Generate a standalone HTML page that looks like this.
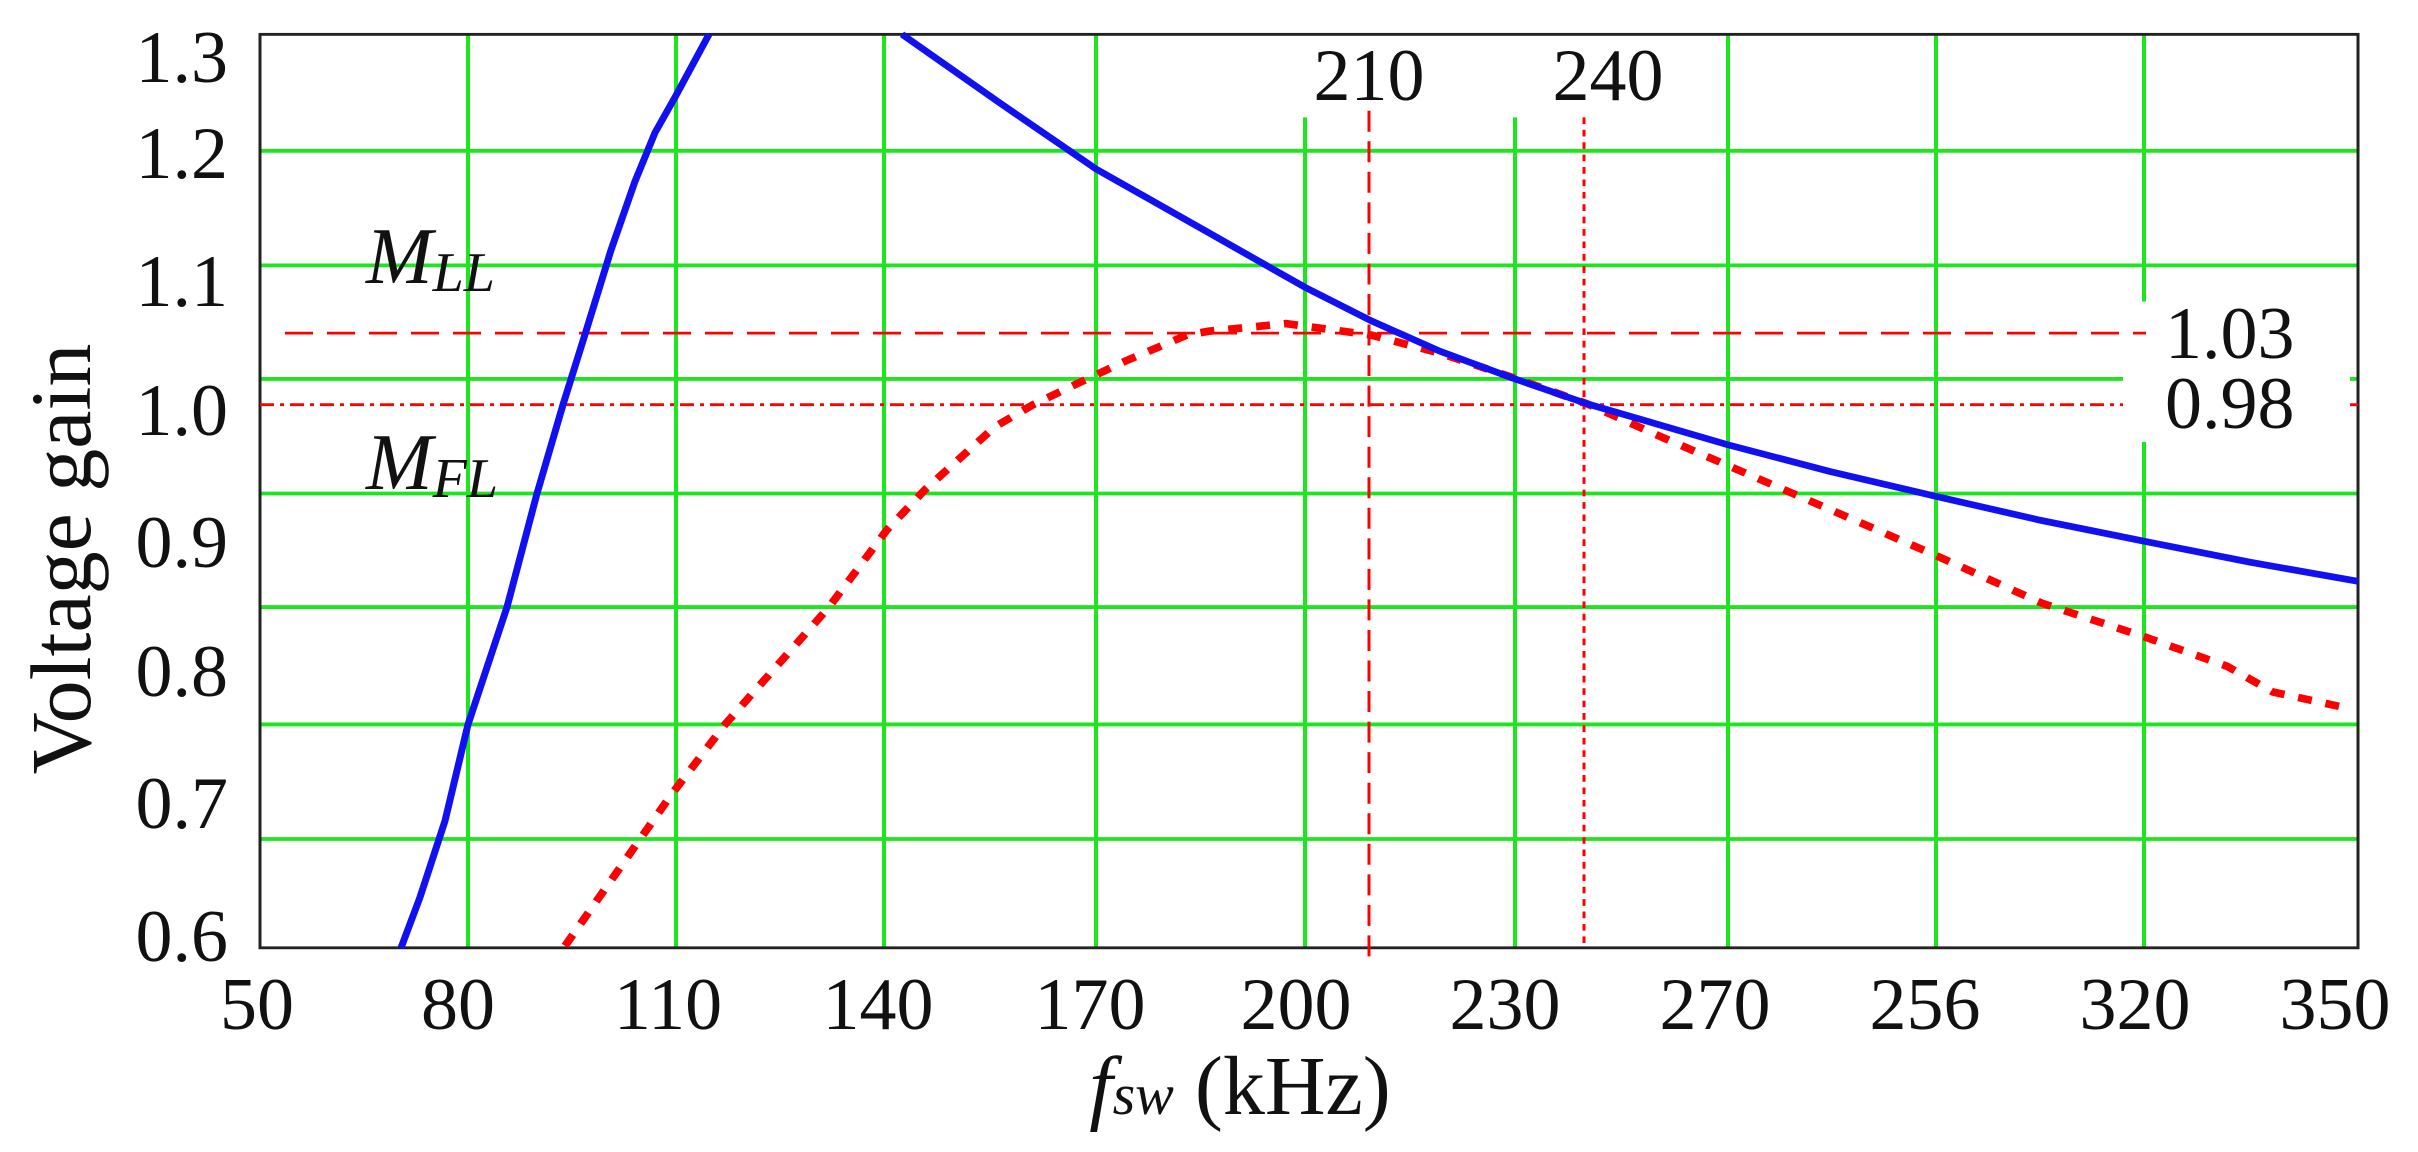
<!DOCTYPE html>
<html><head><style>html,body{margin:0;padding:0;background:#fff}svg{display:block}</style></head>
<body>
<svg width="2418" height="1152" viewBox="0 0 2418 1152" xmlns="http://www.w3.org/2000/svg" font-family="Liberation Serif, serif">
<rect width="2418" height="1152" fill="#fff"/>
<g transform="scale(1,0.9545)">
<g stroke="#1ee61e" stroke-width="4">
<line x1="468" y1="36" x2="468" y2="993"/>
<line x1="676" y1="36" x2="676" y2="993"/>
<line x1="884" y1="36" x2="884" y2="993"/>
<line x1="1096" y1="36" x2="1096" y2="993"/>
<line x1="1305" y1="123" x2="1305" y2="993"/>
<line x1="1515" y1="123" x2="1515" y2="993"/>
<line x1="1728" y1="36" x2="1728" y2="993"/>
<line x1="1936" y1="36" x2="1936" y2="993"/>
<line x1="2144" y1="36" x2="2144" y2="316"/>
<line x1="2144" y1="463" x2="2144" y2="993"/>
<line x1="260" y1="158" x2="2358" y2="158"/>
<line x1="260" y1="278" x2="2358" y2="278"/>
<line x1="260" y1="397" x2="2123" y2="397"/>
<line x1="2350" y1="397" x2="2358" y2="397"/>
<line x1="260" y1="517" x2="2358" y2="517"/>
<line x1="260" y1="636" x2="2358" y2="636"/>
<line x1="260" y1="759" x2="2358" y2="759"/>
<line x1="260" y1="879" x2="2358" y2="879"/>
</g>
<rect x="260" y="36" width="2098" height="957" fill="none" stroke="#222" stroke-width="3"/>
<g stroke="#f00" stroke-width="3" fill="none">
<line x1="285" y1="349" x2="2146" y2="349" stroke-dasharray="28,14"/>
<line x1="260" y1="424" x2="2123" y2="424" stroke-dasharray="14,6,4,6"/>
<line x1="2350" y1="424" x2="2358" y2="424"/>
<line x1="1369" y1="116" x2="1369" y2="1010" stroke-dasharray="22,10"/>
<line x1="1584" y1="123" x2="1584" y2="993" stroke-dasharray="7,6"/>
</g>
<polyline fill="none" stroke="#f00" stroke-width="8" stroke-dasharray="14,14" points="565,991 671,833 725,759 829,636 887,555 925,513 995,447 1033,424 1079,401 1126,378 1187,351 1209,347 1286,339 1371,351 1440,370 1517,397 1587,423 1664,459 1733,490 1826,532 1936,582 2042,632 2144,667 2227,698 2273,725 2339,740"/>
<polyline fill="none" stroke="#1010f0" stroke-width="7" stroke-linejoin="round" points="401,993 420,940 445,860 468,759 507,636 537,517 563,424 586,347 611,262 635,190 655,139 676,100 709,36"/>
<polyline fill="none" stroke="#1010f0" stroke-width="7" stroke-linejoin="round" points="902,36 1000,108 1096,177 1209,244 1305,301 1371,336 1440,368 1515,397 1587,423 1728,466 1830,494 1936,520 2040,545 2144,567 2250,589 2358,609"/>
</g>
<g font-size="74" fill="#111" text-anchor="end">
<text x="228" y="82">1.3</text>
<text x="228" y="178">1.2</text>
<text x="228" y="306">1.1</text>
<text x="228" y="435">1.0</text>
<text x="228" y="567">0.9</text>
<text x="228" y="696">0.8</text>
<text x="228" y="828">0.7</text>
<text x="228" y="961">0.6</text>
</g>
<g font-size="74" fill="#111" text-anchor="middle">
<text x="257" y="1029">50</text>
<text x="458" y="1029">80</text>
<text x="668" y="1029">110</text>
<text x="878" y="1029">140</text>
<text x="1090" y="1029">170</text>
<text x="1296" y="1029">200</text>
<text x="1505" y="1029">230</text>
<text x="1715" y="1029">270</text>
<text x="1925" y="1029">256</text>
<text x="2135" y="1029">320</text>
<text x="2335" y="1029">350</text>
<text x="1369" y="100">210</text>
<text x="1608" y="100">240</text>
</g>
<text x="2165" y="358" font-size="74" fill="#111">1.03</text>
<text x="2165" y="428" font-size="74" fill="#111">0.98</text>
<text transform="translate(90,559) rotate(-90)" font-size="86" text-anchor="middle" fill="#111">Voltage gain</text>
<text x="1240" y="1114" font-size="84" fill="#111" text-anchor="middle"><tspan font-style="italic">f</tspan><tspan font-style="italic" font-size="58">sw</tspan> (kHz)</text>
<text x="366" y="283" font-size="80" font-style="italic" fill="#111">M<tspan font-size="56" dy="8">LL</tspan></text>
<text x="366" y="489" font-size="80" font-style="italic" fill="#111">M<tspan font-size="56" dy="8">FL</tspan></text>
</svg>
</body></html>
